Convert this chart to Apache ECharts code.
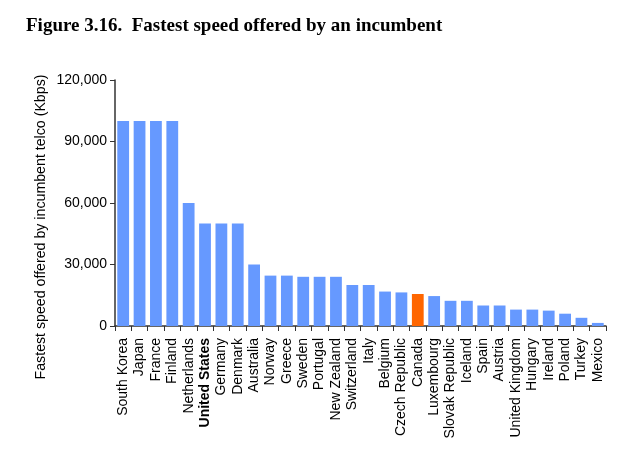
<!DOCTYPE html>
<html>
<head>
<meta charset="utf-8">
<script src="https://cdn.jsdelivr.net/npm/echarts@6/dist/echarts.min.js"></script>
<style>
  html, body { margin: 0; padding: 0; background: #fff; }
  #main { width: 617px; height: 452px; }
</style>
</head>
<body>
<div id="main"></div>
<script>
  // countries, in the order shown
  var countries = [
    "South Korea", "Japan", "France", "Finland", "Netherlands", "United States",
    "Germany", "Denmark", "Australia", "Norway", "Greece", "Sweden", "Portugal",
    "New Zealand", "Switzerland", "Italy", "Belgium", "Czech Republic", "Canada",
    "Luxembourg", "Slovak Republic", "Iceland", "Spain", "Austria",
    "United Kingdom", "Hungary", "Ireland", "Poland", "Turkey", "Mexico"
  ];
  // fastest speed, Kbps
  var speeds = [
    100000, 100000, 100000, 100000, 60000, 50000,
    50000, 50000, 30000, 24576, 24576, 24000, 24000,
    24000, 20000, 20000, 16800, 16384, 15600,
    14600, 12288, 12288, 10000, 10000,
    8000, 8000, 7500, 6000, 4000, 1500
  ];
  var yTicks = [0, 30000, 60000, 90000, 120000];
  var highlight = "Canada";
  var boldLabel = "United States";

  var chart = echarts.init(document.getElementById("main"));

  var option = {
    animation: false,
    title: {
      text: "Figure 3.16.  Fastest speed offered by an incumbent",
      left: 21,
      top: 12,
      textStyle: {
        fontFamily: "Liberation Serif",
        fontWeight: "bold",
        fontSize: 19,
        color: "#000"
      }
    },
    graphic: [{
      type: "text",
      x: 41,
      y: 227,
      rotation: Math.PI / 2,
      style: {
        text: "Fastest speed offered by incumbent telco (Kbps)",
        font: "14.2px 'Liberation Sans'",
        fill: "#000",
        align: "center",
        verticalAlign: "middle"
      }
    }],
    grid: { left: 115, right: 11, top: 80, bottom: 126 },
    xAxis: {
      type: "category",
      data: countries,
      axisLine: { lineStyle: { color: "#333", width: 1.5 } },
      axisTick: { show: true, length: 5, alignWithLabel: false, lineStyle: { color: "#333" } },
      axisLabel: {
        rotate: 90,
        interval: 0,
        margin: 12,
        fontFamily: "Liberation Sans",
        fontSize: 14,
        color: "#000",
        formatter: function (v) {
          return v === boldLabel ? "{b|" + v + "}" : v;
        },
        rich: {
          b: { fontWeight: "bold", fontFamily: "Liberation Sans", fontSize: 14, color: "#000" }
        }
      }
    },
    yAxis: {
      type: "value",
      min: yTicks[0],
      max: yTicks[yTicks.length - 1],
      interval: yTicks[1] - yTicks[0],
      splitLine: { show: false },
      axisLine: { show: true, lineStyle: { color: "#333", width: 1.5 } },
      axisTick: { show: true, length: 5, lineStyle: { color: "#333" } },
      axisLabel: {
        margin: 8,
        fontFamily: "Liberation Sans",
        fontSize: 14,
        color: "#000",
        formatter: function (v) { return v.toLocaleString("en-US"); }
      }
    },
    series: [{
      type: "bar",
      barCategoryGap: "28%",
      data: speeds.map(function (v, i) {
        return {
          value: v,
          itemStyle: { color: countries[i] === highlight ? "#FF6600" : "#6699FF" }
        };
      })
    }]
  };

  chart.setOption(option);
</script>
</body>
</html>
